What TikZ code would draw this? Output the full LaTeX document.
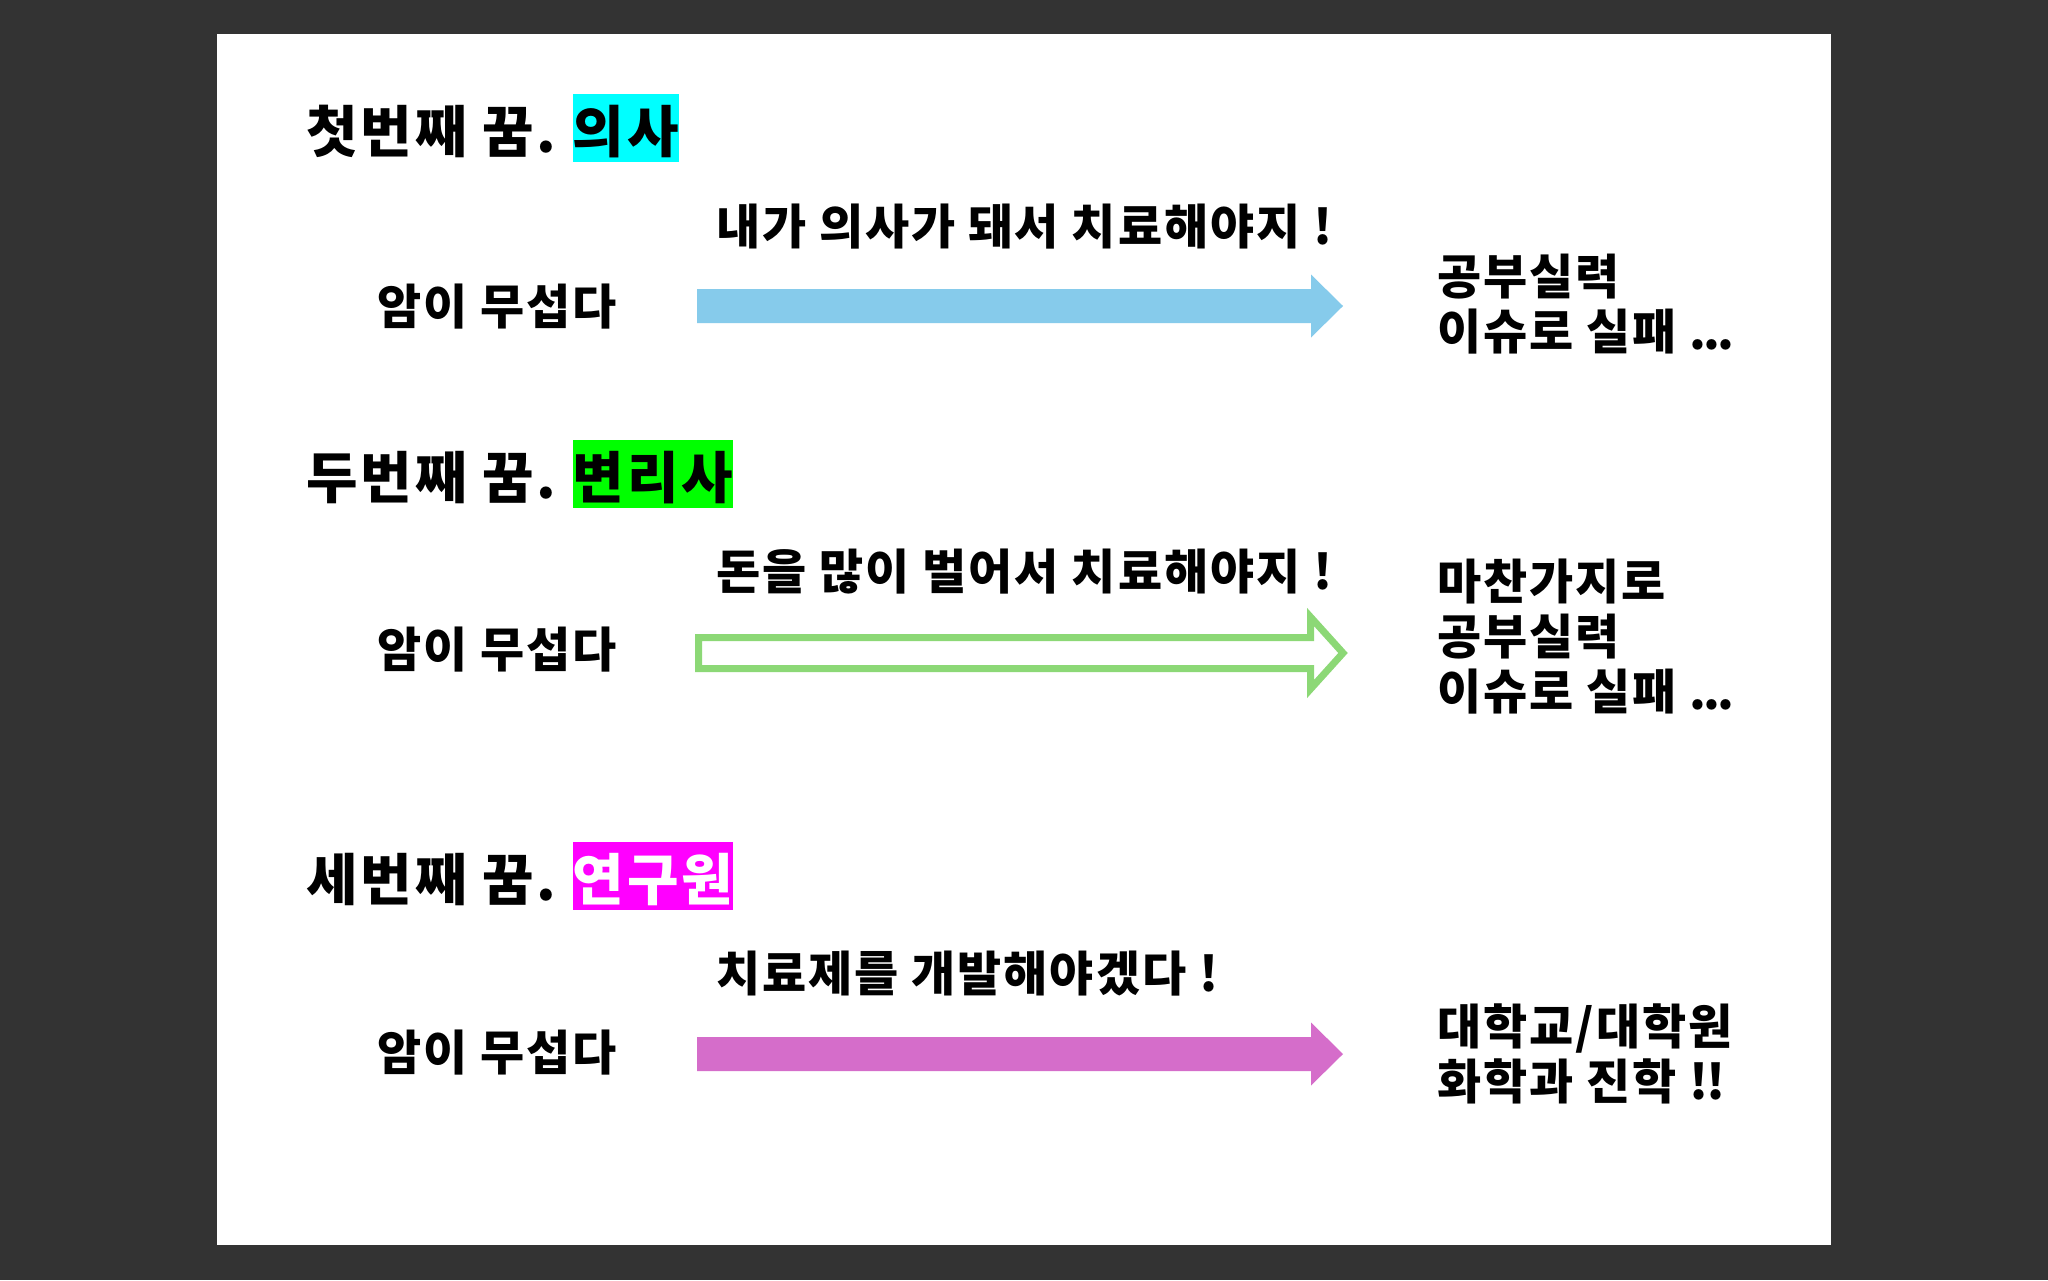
\documentclass[tikz,border=0pt]{standalone}
\usepackage{fontspec}
\setmainfont{Noto Sans CJK KR}
\usetikzlibrary{positioning, calc}
\definecolor{bgdark}{RGB}{51,51,51}
\definecolor{tagcyan}{RGB}{0,255,255}
\definecolor{taggreen}{RGB}{0,255,0}
\definecolor{tagmagenta}{RGB}{255,0,255}
\definecolor{arrowblue}{RGB}{134,203,235}
\definecolor{arrowgreen}{RGB}{140,216,118}
\definecolor{arrowpink}{RGB}{213,109,202}
% 굵은 화살표: 모양, 꼬리, 끝, 몸통 반폭, 머리 반폭, 머리 길이
\newcommand{\blockArrow}[6]{%
    \path[#1] (#2) ++(0,-#4) -- ($(#3)+(-#6,-#4)$) -- ++(0,#4-#5) -- (#3)
        -- ++(-#6,#5) -- ++(0,#4-#5) -- ($(#2)+(0,#4)$) -- cycle;}
% 자간 없는 문장부호
\newcommand{\tight}[1]{{\addfontfeatures{LetterSpace=-6}#1}}

\begin{document}
\begin{tikzpicture}[
        x=0.5pt, y=-0.5pt,
        % 제목 (번째 꿈)
        dreamTitle/.style={
            inner sep=0pt,
            anchor=base west,
            font=\fontsize{28}{31}\selectfont\bfseries\addfontfeatures{LetterSpace=5}
        },
        % 색칠된 직업 상자
        jobTag/.style={
            inner sep=0pt,
            text height=28.8pt,
            text depth=4.9pt,
            anchor=base west,
            font=\fontsize{28}{31}\selectfont\bfseries\addfontfeatures{LetterSpace=5}
        },
        % 본문 글씨
        bodyText/.style={
            inner sep=0pt,
            anchor=west,
            align=left,
            font=\fontsize{24}{27.5}\selectfont\bfseries\addfontfeatures{LetterSpace=4}
        },
        % 꽉 찬 화살표
        solidArrow/.style={fill=#1},
        % 테두리 화살표
        hollowArrow/.style={draw=#1, line width=3.5pt, line join=miter}
    ]

    % 배경과 슬라이드
    \useasboundingbox (0,0) rectangle (2048,1280);
    \fill[bgdark] (0,0) rectangle (2048,1280);
    \fill[white] (217,34) rectangle (1831,1245);

    % 첫번째 꿈
    \node[dreamTitle] (dream1) at (306,152) {첫번째 꿈.};
    \node[jobTag, fill=tagcyan] (job1) at ([xshift=8pt]dream1.base east) {의사};
    \node[bodyText] (fear1) at (377,307) {암이 무섭다};
    \node[bodyText] (say1) at (716,227) {내가 의사가 돼서 치료해야지 !};
    \node[bodyText] (end1) at (1437,304.5) {공부실력\\이슈로 실패 \tight{...}};
    \coordinate (tail1) at (697,306);
    \coordinate (tip1) at (1343,306);
    \blockArrow{solidArrow=arrowblue}{tail1}{tip1}{17}{31.5}{32}

    % 두번째 꿈
    \node[dreamTitle] (dream2) at (306,498) {두번째 꿈.};
    \node[jobTag, fill=taggreen] (job2) at ([xshift=8pt]dream2.base east) {변리사};
    \node[bodyText] (fear2) at (377,650) {암이 무섭다};
    \node[bodyText] (say2) at (716,572) {돈을 많이 벌어서 치료해야지 !};
    \node[bodyText] (end2) at (1437,637) {마찬가지로\\공부실력\\이슈로 실패 \tight{...}};
    \coordinate (tail2) at (698.5,653);
    \coordinate (tip2) at (1343,653);
    \blockArrow{hollowArrow=arrowgreen}{tail2}{tip2}{15.5}{36}{32.5}

    % 세번째 꿈
    \node[dreamTitle] (dream3) at (306,900) {세번째 꿈.};
    \node[jobTag, fill=tagmagenta, text=white] (job3) at ([xshift=8pt]dream3.base east) {연구원};
    \node[bodyText] (fear3) at (377,1053) {암이 무섭다};
    \node[bodyText] (say3) at (716,974) {치료제를 개발해야겠다 !};
    \node[bodyText] (end3) at (1437,1053.5) {대학교/대학원\\화학과 진학 \tight{!!}};
    \coordinate (tail3) at (697,1054);
    \coordinate (tip3) at (1343,1054);
    \blockArrow{solidArrow=arrowpink}{tail3}{tip3}{17}{31.5}{32}

\end{tikzpicture}
\end{document}
